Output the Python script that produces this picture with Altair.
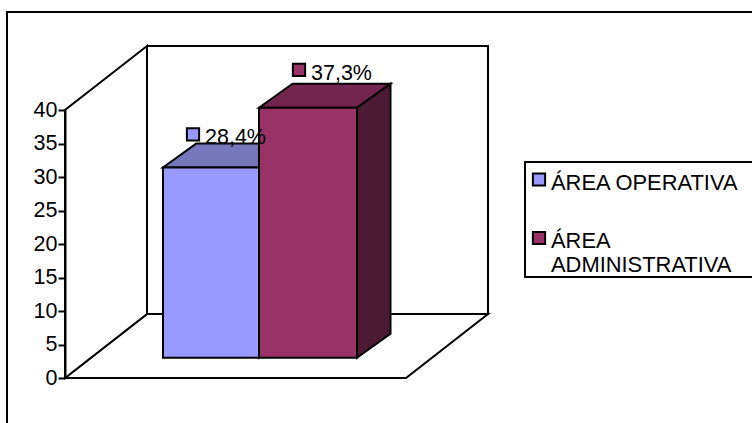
import altair as alt
import pandas as pd

# Series drawn as 3D columns
categories = ["ÁREA OPERATIVA", "ÁREA ADMINISTRATIVA"]
values = [28.4, 37.3]
y_ticks = [0, 5, 10, 15, 20, 25, 30, 35, 40]

# Face colours per series
front_colors = ["#9999FF", "#993366"]
top_colors = ["#7777BB", "#73264D"]
side_colors = ["#59598C", "#4D1A33"]

# Oblique projection of the box: x in pixels from the axis, y in value units
PX_PER_UNIT = 6.7
ROOM_X, ROOM_W = 82, 341
ROOM_H = 40
ROOM_LIFT = 64 / PX_PER_UNIT
BAR_EDGES = [98, 194, 292]
BAR_BASE = 3.03
BAR_DX, BAR_DY = 33.5, 24 / PX_PER_UNIT

FONT = "Liberation Sans"
FONT_SIZE = 21.5
LEGEND_FONT_SIZE = 21.9
LINE = 2
INK = "black"

x_scale = alt.Scale(domain=[0, 687], range=[0, 687], nice=False, zero=False)
y_scale = alt.Scale(domain=[0, 40], nice=False, zero=False)
y_axis = alt.Axis(
    values=y_ticks, title=None, grid=False, tickSize=7, tickWidth=LINE,
    tickColor=INK, domainColor=INK, domainWidth=LINE, labelFont=FONT,
    labelFontSize=FONT_SIZE, labelColor=INK, labelPadding=1, zindex=1,
)


def X(field="x"):
    return alt.X(f"{field}:Q", scale=x_scale, axis=None)


def Y(field="y"):
    return alt.Y(f"{field}:Q", scale=y_scale, axis=y_axis, stack=None)


def quad_horizontal(rows, fill):
    """Parallelogram with level top and bottom edges."""
    return alt.Chart(pd.DataFrame(rows)).mark_area(
        orient="horizontal", fill=fill, stroke=INK, strokeWidth=LINE
    ).encode(y=Y(), x=X("x"), x2=alt.X2("x2:Q"))


def quad_vertical(rows, fill):
    """Parallelogram with upright left and right edges."""
    return alt.Chart(pd.DataFrame(rows)).mark_area(
        orient="vertical", fill=fill, stroke=INK, strokeWidth=LINE
    ).encode(x=X(), y=Y("y"), y2=alt.Y2("y2:Q"))


def box(x, x2, y, y2, fill):
    return alt.Chart(pd.DataFrame([{"x": x, "x2": x2, "y": y, "y2": y2}])).mark_rect(
        fill=fill, stroke=INK, strokeWidth=LINE
    ).encode(x=X("x"), x2=alt.X2("x2:Q"), y=Y("y"), y2=alt.Y2("y2:Q"))


one_row = pd.DataFrame({"n": [0]})


def pixel_box(x, x2, y, y2):
    return alt.Chart(one_row).mark_rect(
        fill="white", stroke=INK, strokeWidth=LINE
    ).encode(
        x=alt.value(x), x2=alt.value(x2), y=alt.value(y), y2=alt.value(y2)
    )


def swatch(x, y, fill):
    return alt.Chart(one_row).mark_point(
        shape="square", size=150, filled=True, fill=fill, stroke=INK,
        strokeWidth=LINE, opacity=1
    ).encode(x=alt.value(x), y=alt.value(y))


def caption(x, y, text, size=FONT_SIZE):
    return alt.Chart(pd.DataFrame({"t": [text]})).mark_text(
        align="left", baseline="alphabetic", font=FONT, fontSize=size, color=INK
    ).encode(x=alt.value(x), y=alt.value(y), text="t:N")


layers = [pixel_box(-58, 800, -98, 500)]

# Room: back wall, floor, left wall with the value axis
layers.append(box(ROOM_X, ROOM_X + ROOM_W, ROOM_LIFT, ROOM_LIFT + ROOM_H, "white"))
layers.append(quad_horizontal(
    [{"y": 0, "x": 0, "x2": ROOM_W},
     {"y": ROOM_LIFT, "x": ROOM_X, "x2": ROOM_X + ROOM_W}], "white"))
layers.append(quad_vertical(
    [{"x": 0, "y": 0, "y2": ROOM_H},
     {"x": ROOM_X, "y": ROOM_LIFT, "y2": ROOM_LIFT + ROOM_H}], "white"))

# Columns
for i, value in enumerate(values):
    left, right = BAR_EDGES[i], BAR_EDGES[i + 1]
    top = BAR_BASE + value
    layers.append(quad_horizontal(
        [{"y": top, "x": left, "x2": right},
         {"y": top + BAR_DY, "x": left + BAR_DX, "x2": right + BAR_DX}],
        top_colors[i]))
    layers.append(quad_vertical(
        [{"x": right, "y": BAR_BASE, "y2": top},
         {"x": right + BAR_DX, "y": BAR_BASE + BAR_DY, "y2": top + BAR_DY}],
        side_colors[i]))
    layers.append(box(left, right, BAR_BASE, top, front_colors[i]))

# Value labels with their colour keys
label_x = [128, 234]
label_lift = [-1, 4]
for i, value in enumerate(values):
    base = 268 - (BAR_BASE + value + BAR_DY) * PX_PER_UNIT - label_lift[i]
    layers.append(swatch(label_x[i], base - 10, front_colors[i]))
    layers.append(caption(label_x[i] + 12, base, f"{value:.1f}%".replace(".", ",")))

# Legend
layers.append(pixel_box(460, 800, 52, 167))
layers.append(swatch(474, 69.5, front_colors[0]))
layers.append(swatch(474, 128, front_colors[1]))
layers.append(caption(486, 80, categories[0], LEGEND_FONT_SIZE))
for line, base in zip(categories[1].split(" "), [138, 161.5]):
    layers.append(caption(486, base, line, LEGEND_FONT_SIZE))

chart = alt.layer(*layers).properties(
    width=687,
    height=268,
    padding={"left": 65, "top": 110, "right": 0, "bottom": 45},
    autosize=alt.AutoSizeParams(type="none"),
    background="white",
).configure_view(stroke=None)

chart.save("out.html", embed_options={"renderer": "svg", "actions": False})
